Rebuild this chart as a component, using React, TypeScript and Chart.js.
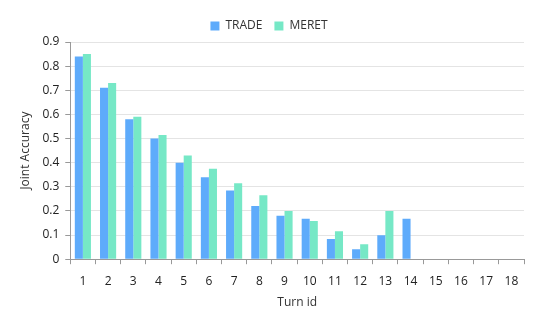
import React, { useEffect, useRef } from "react";
import { Chart, registerables } from "chart.js";

Chart.register(...registerables);

const categories = ["1","2","3","4","5","6","7","8","9","10","11","12","13","14","15","16","17","18"];
const tradeValues = [0.84, 0.71, 0.58, 0.50, 0.40, 0.34, 0.285, 0.22, 0.18, 0.168, 0.084, 0.041, 0.099, 0.168, 0, 0, 0, 0];
const meretValues = [0.85, 0.73, 0.59, 0.515, 0.43, 0.375, 0.315, 0.265, 0.20, 0.158, 0.116, 0.062, 0.20, 0, 0, 0, 0, 0];
const seriesNames = ["TRADE", "MERET"];

const FONT = "'Open Sans', 'Liberation Sans', sans-serif";

export default function App() {
  const ref = useRef<HTMLCanvasElement | null>(null);
  useEffect(() => {
    if (!ref.current) return;
    const chart = new Chart(ref.current, {
      type: "bar",
      data: {
        labels: categories,
        datasets: [
          { label: seriesNames[0], data: tradeValues, backgroundColor: "#5eabfb", borderWidth: 0 },
          { label: seriesNames[1], data: meretValues, backgroundColor: "#76e8c6", borderWidth: 0 },
        ],
      },
      options: {
        animation: false,
        responsive: false,
        maintainAspectRatio: false,
        datasets: { bar: { categoryPercentage: 0.64, barPercentage: 1.0 } },
        layout: { padding: { left: 6, right: 13, top: 0, bottom: 0 } },
        plugins: {
          legend: {
            position: "top",
            labels: {
              boxWidth: 9,
              boxHeight: 9,
              padding: 12,
              color: "#333",
              font: { family: FONT, size: 12 },
            },
          },
          tooltip: { enabled: false },
        },
        scales: {
          x: {
            grid: { drawOnChartArea: false, drawTicks: true, tickLength: 5, tickColor: "#999", offset: true },
            border: { color: "#999" },
            ticks: { color: "#222", font: { family: FONT, size: 12 }, padding: 10, maxRotation: 0 },
            title: { display: true, text: "Turn id", color: "#333", font: { family: FONT, size: 12 }, padding: { top: -3, bottom: 0 } },
          },
          y: {
            min: 0,
            max: 0.9,
            ticks: {
              stepSize: 0.1,
              color: "#222",
              font: { family: FONT, size: 12 },
              padding: 6,
              callback: (v: any) => (Math.round(Number(v) * 10) / 10).toString(),
            },
            grid: { color: "#e4e4e4", tickColor: "#999", tickLength: 5 },
            border: { color: "#999" },
            title: { display: true, text: "Joint Accuracy", color: "#333", font: { family: FONT, size: 12 }, padding: { bottom: 4 } },
          },
        },
      },
    });
    return () => chart.destroy();
  }, []);
  return (
    <div style={{ width: 529, height: 302 }}>
      <canvas ref={ref} width={529} height={302} style={{ width: 529, height: 302 }} />
    </div>
  );
}
